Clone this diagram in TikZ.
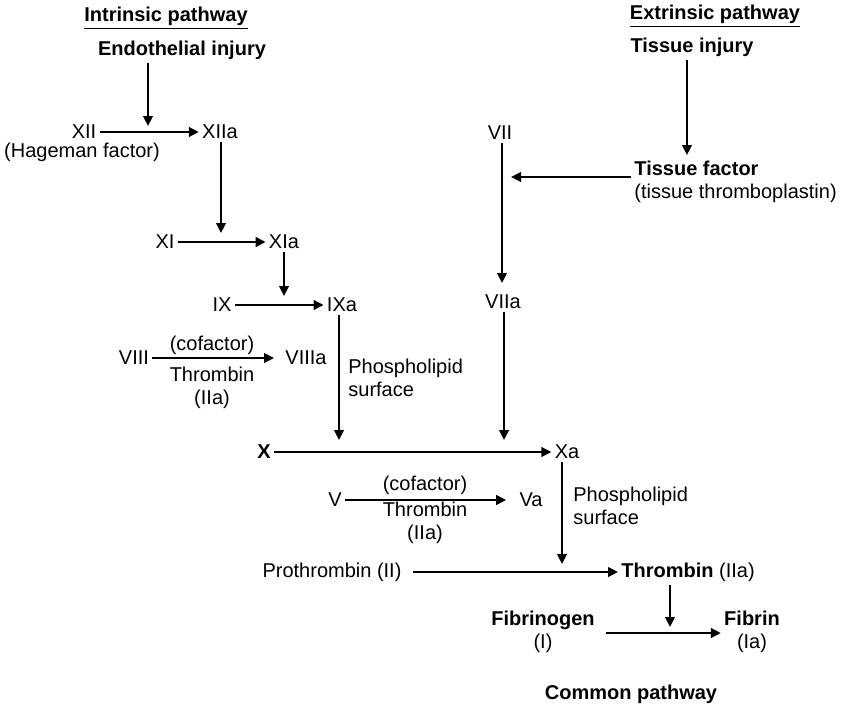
\documentclass[tikz,border=0pt]{standalone}
\usepackage{fontspec}
\setmainfont{Liberation Sans}
\usetikzlibrary{arrows.meta,calc}
\begin{document}
\begin{tikzpicture}[x=0.5pt,y=-0.5pt,
  every node/.style={inner sep=1.5pt,font=\fontsize{10}{11.5}\selectfont},
  bld/.style={font=\fontsize{10}{11.5}\selectfont\bfseries},
  twol/.style={align=center},
  arr/.style={line width=1.1pt,-{Triangle[length=5pt,width=4.8pt]}}]
\useasboundingbox (0,0) rectangle (846,707);
% titles
\node[bld] (title1) at (166,18) {\underline{Intrinsic pathway}};
\node[bld] (title2) at (715,16) {\underline{Extrinsic pathway}};
\node[bld] (endo) at (182,50) {Endothelial injury};
\node[bld] (tinj) at (692,47) {Tissue injury};
% intrinsic
\node (XII) at (84,132) {XII};
\node (hag) at (82,152) {(Hageman factor)};
\node (XIIa) at (220,132) {XIIa};
\node (XI) at (165,242) {XI};
\node (XIa) at (284,242) {XIa};
\node (IX) at (222,305) {IX};
\node (IXa) at (342,305) {IXa};
\node (VIII) at (134,358) {VIII};
\node (VIIIa) at (306,358) {VIIIa};
\node (cof1) at (212,345) {(cofactor)};
\node[twol] (thr1) at (212,388) {Thrombin\\(IIa)};
\node[align=left,anchor=west] (phos1) at (345,378) {Phospholipid\\surface};
% extrinsic
\node (VII) at (500,133) {VII};
\node[align=left,anchor=west] (tfac) at (631,182) {\textbf{Tissue factor}\\(tissue thromboplastin)};
\node (VIIa) at (503,302) {VIIa};
% common
\node[bld] (X) at (264,452) {X};
\node (Xa) at (567,452) {Xa};
\node (V) at (335,500) {V};
\node (Va) at (531,500) {Va};
\node (cof2) at (425,485) {(cofactor)};
\node[twol] (thr2) at (425,523) {Thrombin\\(IIa)};
\node[align=left,anchor=west] (phos2) at (570,506) {Phospholipid\\surface};
\node (proth) at (332,572) {Prothrombin (II)};
\node[anchor=west] (thromb) at (618,572) {\textbf{Thrombin} (IIa)};
\node[twol] (fibg) at (543,632) {\textbf{Fibrinogen}\\(I)};
\node[twol] (fib) at (752,632) {\textbf{Fibrin}\\(Ia)};
\node[bld] (common) at (631,694) {Common pathway};
% coordinates on connectors
\coordinate (cEndo) at (148,126);
\coordinate (cXIIa) at (221,233);
\coordinate (cXIa) at (284,296);
\coordinate (cIXa) at (339,440);
\coordinate (cVII) at (502,283);
\coordinate (cTF) at (511,177);
\coordinate (cVIIa) at (504,440);
\coordinate (cXa) at (562,564);
\coordinate (cThr) at (670,627);
\coordinate (cTinj) at (687,155);
% connectors
\draw[arr] (endo.south -| cEndo) -- (cEndo);
\draw[arr] (XII.east) -- (XIIa.west);
\draw[arr] (XIIa.south -| cXIIa) -- (cXIIa);
\draw[arr] (XI.east) -- (XIa.west);
\draw[arr] (XIa.south -| cXIa) -- (cXIa);
\draw[arr] (IX.east) -- (IXa.west);
\draw[arr] (VIII.east) -- ([xshift=-4pt]VIIIa.west);
\draw[arr] (IXa.south -| cIXa) -- (cIXa);
\draw[arr] (tinj.south -| cTinj) -- (cTinj);
\draw[arr] (VII.south -| cVII) -- (cVII);
\draw[arr] (tfac.west |- cTF) -- (cTF);
\draw[arr] (VIIa.south -| cVIIa) -- (cVIIa);
\draw[arr] (X.east) -- (Xa.west);
\draw[arr] (V.east) -- ([xshift=-5pt]Va.west);
\draw[arr] (Xa.south -| cXa) -- (cXa);
\draw[arr] ([xshift=4pt]proth.east) -- (thromb.west);
\draw[arr] (thromb.south -| cThr) -- ++(0,10) -- (cThr);
\draw[arr] ([xshift=4pt]fibg.east |- 0,633) -- (fib.west |- 0,633);
\end{tikzpicture}
\end{document}
